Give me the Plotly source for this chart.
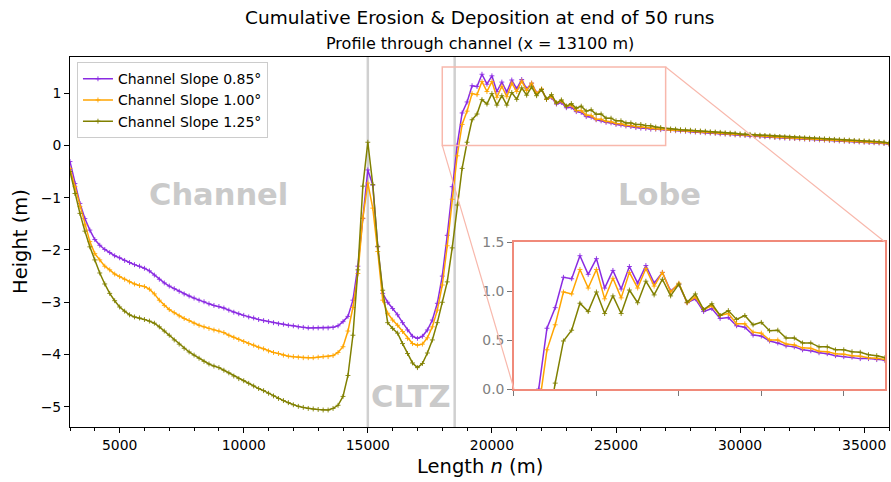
import plotly.graph_objects as go

# ---------------- data ----------------
length_m = list(range(3000, 36001, 200))

slope_085 = [
    # 3000 - 9000
    -0.31, -0.73, -1.11, -1.40, -1.62, -1.80, -1.91, -1.99, -2.05, -2.11,
    -2.15, -2.20, -2.24, -2.28, -2.31, -2.35, -2.40, -2.48, -2.56, -2.63,
    -2.69, -2.74, -2.79, -2.84, -2.88, -2.92, -2.96, -2.99, -3.03, -3.06, -3.08,
    # 9200 - 15000
    -3.11, -3.15, -3.19, -3.22, -3.25, -3.28, -3.30, -3.33, -3.35, -3.37,
    -3.39, -3.41, -3.42, -3.44, -3.45, -3.47, -3.48, -3.49, -3.49, -3.49,
    -3.49, -3.49, -3.48, -3.45, -3.37, -3.27, -2.96, -2.31, -1.40, -0.47,
    # 15200 - 18600
    -0.76, -1.94, -2.83, -3.00, -3.12, -3.24, -3.39, -3.53, -3.65, -3.69,
    -3.65, -3.53, -3.34, -3.02, -2.50, -1.72, -0.79, 0.00,
    # 18800 - 27000
    0.62, 0.83, 1.14, 1.125, 1.36, 1.17, 1.33, 1.03, 1.21, 1.02,
    1.25, 1.08, 1.26, 1.08, 1.19, 1.00, 1.07, 0.88, 0.92, 0.79,
    0.82, 0.72, 0.73, 0.645, 0.63, 0.55, 0.54, 0.49, 0.47, 0.44,
    0.43, 0.40, 0.39, 0.37, 0.36, 0.34, 0.33, 0.325, 0.31, 0.31, 0.30, 0.29,
    # 27200 - 36000
    0.285, 0.28, 0.275, 0.27, 0.26, 0.255, 0.25, 0.24, 0.235, 0.23,
    0.22, 0.215, 0.21, 0.20, 0.195, 0.19, 0.18, 0.175, 0.17, 0.165,
    0.16, 0.15, 0.145, 0.14, 0.135, 0.13, 0.125, 0.12, 0.115, 0.11,
    0.105, 0.10, 0.095, 0.09, 0.085, 0.08, 0.075, 0.07, 0.065, 0.06,
    0.055, 0.05, 0.045, 0.035, 0.02,
]

slope_100 = [
    # 3000 - 9000
    -0.44, -0.79, -1.17, -1.52, -1.84, -2.07, -2.19, -2.31, -2.38, -2.46,
    -2.51, -2.56, -2.61, -2.65, -2.68, -2.70, -2.75, -2.84, -2.96, -3.06,
    -3.14, -3.20, -3.26, -3.31, -3.35, -3.40, -3.44, -3.47, -3.50, -3.53, -3.55,
    # 9200 - 15000
    -3.58, -3.63, -3.67, -3.71, -3.75, -3.79, -3.82, -3.86, -3.89, -3.93,
    -3.96, -3.98, -4.01, -4.03, -4.04, -4.05, -4.06, -4.06, -4.06, -4.05,
    -4.04, -4.04, -4.02, -3.96, -3.85, -3.55, -3.10, -2.45, -1.39, -0.72,
    # 15200 - 18600
    -1.20, -2.03, -2.96, -3.21, -3.34, -3.44, -3.56, -3.69, -3.79, -3.82,
    -3.80, -3.68, -3.47, -3.15, -2.67, -1.92, -1.03, -0.20,
    # 18800 - 27000
    0.40, 0.655, 0.99, 0.97, 1.22, 1.03, 1.22, 0.92, 1.13, 0.93,
    1.19, 1.03, 1.23, 1.05, 1.19, 0.99, 1.08, 0.88, 0.94, 0.81,
    0.85, 0.75, 0.77, 0.665, 0.665, 0.58, 0.57, 0.50, 0.50, 0.46,
    0.45, 0.42, 0.415, 0.385, 0.38, 0.36, 0.355, 0.34, 0.335, 0.32, 0.315, 0.30,
    # 27200 - 36000
    0.295, 0.29, 0.285, 0.28, 0.27, 0.265, 0.26, 0.25, 0.245, 0.24,
    0.23, 0.225, 0.22, 0.21, 0.205, 0.20, 0.19, 0.185, 0.18, 0.175,
    0.17, 0.16, 0.155, 0.15, 0.145, 0.14, 0.135, 0.13, 0.125, 0.12,
    0.115, 0.11, 0.105, 0.10, 0.095, 0.09, 0.085, 0.08, 0.075, 0.07,
    0.065, 0.06, 0.055, 0.045, 0.03,
]

slope_125 = [
    # 3000 - 9000
    -0.50, -0.92, -1.30, -1.64, -1.94, -2.19, -2.44, -2.65, -2.83, -2.97,
    -3.09, -3.17, -3.24, -3.28, -3.30, -3.33, -3.36, -3.40, -3.47, -3.55,
    -3.63, -3.72, -3.80, -3.88, -3.95, -4.01, -4.07, -4.13, -4.18, -4.22, -4.25,
    # 9200 - 15000
    -4.30, -4.35, -4.41, -4.46, -4.50, -4.55, -4.60, -4.65, -4.69, -4.74,
    -4.79, -4.84, -4.88, -4.92, -4.96, -4.99, -5.01, -5.03, -5.04, -5.05,
    -5.06, -5.06, -5.03, -4.97, -4.80, -4.40, -3.63, -2.38, -0.78, 0.06,
    # 15200 - 18600
    -0.75, -1.93, -2.77, -3.39, -3.50, -3.59, -3.79, -3.98, -4.16, -4.25,
    -4.17, -3.97, -3.72, -3.39, -3.00, -2.61, -1.96, -1.14,
    # 18800 - 27000
    -0.44, 0.06, 0.49, 0.60, 0.875, 0.79, 0.99, 0.77, 0.95, 0.77,
    1.01, 0.88, 1.10, 0.96, 1.12, 0.95, 1.07, 0.885, 0.97, 0.81,
    0.87, 0.75, 0.80, 0.71, 0.75, 0.655, 0.68, 0.595, 0.60, 0.52,
    0.52, 0.47, 0.47, 0.43, 0.43, 0.40, 0.40, 0.38, 0.375, 0.35, 0.34, 0.32,
    # 27200 - 36000
    0.315, 0.31, 0.30, 0.295, 0.29, 0.28, 0.275, 0.27, 0.26, 0.255,
    0.25, 0.24, 0.235, 0.23, 0.22, 0.215, 0.21, 0.20, 0.195, 0.19,
    0.185, 0.175, 0.17, 0.165, 0.16, 0.155, 0.15, 0.145, 0.14, 0.135,
    0.13, 0.125, 0.12, 0.115, 0.11, 0.105, 0.10, 0.095, 0.09, 0.085,
    0.08, 0.075, 0.07, 0.06, 0.045,
]

series_names = ["Channel Slope 0.85°", "Channel Slope 1.00°", "Channel Slope 1.25°"]
series_values = [slope_085, slope_100, slope_125]
series_colors = ["#8a2be2", "#ffa500", "#808000"]

zone_bounds = [15000, 18500]
zone_labels = ["Channel", "CLTZ", "Lobe"]
zone_label_x = [9000, 16750, 26750]
zone_label_y = [-0.93, -4.81, -0.93]

x_range = [3000, 36000]
y_range = [-5.385, 1.69]
zoom_x = [18000, 27000]
zoom_y = [0.0, 1.5]
inset_dom_x = [0.5421, 0.9951]
inset_dom_y = [0.1027, 0.5]

for s in series_values:
    assert len(s) == len(length_m), len(s)

FONT = "DejaVu Sans"
SALMON = "#f08a7a"
SALMON_LIGHT = "#f8b8ac"

fig = go.Figure()


def series_style(col):
    return dict(line=dict(color=col, width=1.5),
                marker=dict(symbol="cross-thin", size=3.5, line=dict(width=0.9, color=col)))


for name, vals, col in zip(series_names, series_values, series_colors):
    fig.add_trace(go.Scatter(name=name, xaxis="x", yaxis="y", x=length_m, y=vals,
                             mode="lines+markers", **series_style(col)))
for name, vals, col in zip(series_names, series_values, series_colors):
    fig.add_trace(go.Scatter(name=name, xaxis="x2", yaxis="y2", showlegend=False,
                             x=length_m, y=vals, mode="lines+markers", **series_style(col)))

shapes = []
for xb in zone_bounds:
    shapes.append(dict(type="line", xref="x", yref="paper", x0=xb, x1=xb, y0=0, y1=1,
                       line=dict(color="#d0d0d0", width=2.5), layer="below"))

# zoom rectangle in main axes
shapes.append(dict(type="rect", xref="x", yref="y", x0=zoom_x[0], x1=zoom_x[1],
                   y0=zoom_y[0], y1=zoom_y[1], line=dict(color=SALMON_LIGHT, width=1.5)))


def to_paper(xv, yv):
    px = (xv - x_range[0]) / (x_range[1] - x_range[0])
    py = (yv - y_range[0]) / (y_range[1] - y_range[0])
    return px, py


p1 = to_paper(zoom_x[0], zoom_y[0])
p2 = to_paper(zoom_x[1], zoom_y[1])
shapes.append(dict(type="line", xref="paper", yref="paper", x0=p1[0], y0=p1[1],
                   x1=inset_dom_x[0], y1=inset_dom_y[0],
                   line=dict(color=SALMON_LIGHT, width=1.2)))
shapes.append(dict(type="line", xref="paper", yref="paper", x0=p2[0], y0=p2[1],
                   x1=inset_dom_x[1], y1=inset_dom_y[1],
                   line=dict(color=SALMON_LIGHT, width=1.2)))

annotations = []
for lab, lx, ly in zip(zone_labels, zone_label_x, zone_label_y):
    annotations.append(dict(text=lab, x=lx, y=ly, xref="x", yref="y", showarrow=False,
                            font=dict(family=FONT, size=30.5, color="#cacaca", weight="bold"),
                            xanchor="center", yanchor="middle"))

annotations += [
    dict(text="Cumulative Erosion & Deposition at end of 50 runs", x=0.5, y=1 + 39 / 370,
         xref="paper", yref="paper", showarrow=False, xanchor="center", yanchor="middle",
         font=dict(family=FONT, size=18.5, color="black")),
    dict(text="Profile through channel (x = 13100 m)", x=0.5, y=1 + 13 / 370,
         xref="paper", yref="paper", showarrow=False, xanchor="center", yanchor="middle",
         font=dict(family=FONT, size=16, color="black")),
    dict(text="Length <i>n</i> (m)", x=0.5, y=-39 / 370, xref="paper", yref="paper",
         showarrow=False, xanchor="center", yanchor="middle",
         font=dict(family=FONT, size=19.5, color="black")),
    dict(text="Height (m)", x=-50 / 819, y=0.5, xref="paper", yref="paper", textangle=-90,
         showarrow=False, xanchor="center", yanchor="middle",
         font=dict(family=FONT, size=19.5, color="black")),
]

fig.update_layout(
    width=891, height=482,
    margin=dict(l=70, r=2, t=57, b=55),
    plot_bgcolor="white", paper_bgcolor="white",
    font=dict(family=FONT, size=13.9, color="black"),
    showlegend=True,
    legend=dict(x=0.0085, y=0.986, xanchor="left", yanchor="top",
                bgcolor="rgba(255,255,255,0.85)", bordercolor="#cccccc", borderwidth=1,
                font=dict(family=FONT, size=14), tracegroupgap=0),
    xaxis=dict(domain=[0, 1], range=x_range, anchor="y", showgrid=False, zeroline=False,
               showline=True, mirror=True, linecolor="black", linewidth=1,
               ticks="outside", ticklen=5, tickcolor="black", tick0=0, dtick=5000,
               tickformat="d",
               minor=dict(dtick=1000, ticks="outside", ticklen=3, tickcolor="black", showgrid=False),
               tickfont=dict(family=FONT, size=13.9)),
    yaxis=dict(domain=[0, 1], range=y_range, anchor="x", showgrid=False, zeroline=False,
               showline=True, mirror=True, linecolor="black", linewidth=1,
               ticks="outside", ticklen=5, tickcolor="black", tick0=0, dtick=1,
               tickfont=dict(family=FONT, size=13.9)),
    xaxis2=dict(domain=inset_dom_x, range=zoom_x, anchor="y2", showgrid=False, zeroline=False,
                showline=True, mirror=True, linecolor=SALMON, linewidth=1.5,
                ticks="outside", ticklen=5, tickcolor="#777777", tick0=0, dtick=2000,
                showticklabels=False),
    yaxis2=dict(domain=inset_dom_y, range=zoom_y, anchor="x2", showgrid=False, zeroline=False,
                showline=True, mirror=True, linecolor=SALMON, linewidth=1.5,
                ticks="outside", ticklen=5, tickcolor="#777777", tick0=0, dtick=0.5,
                tickformat=".1f", tickfont=dict(family=FONT, size=13.9, color="#808080")),
    shapes=shapes,
    annotations=annotations,
)

fig.write_html("out.html")
